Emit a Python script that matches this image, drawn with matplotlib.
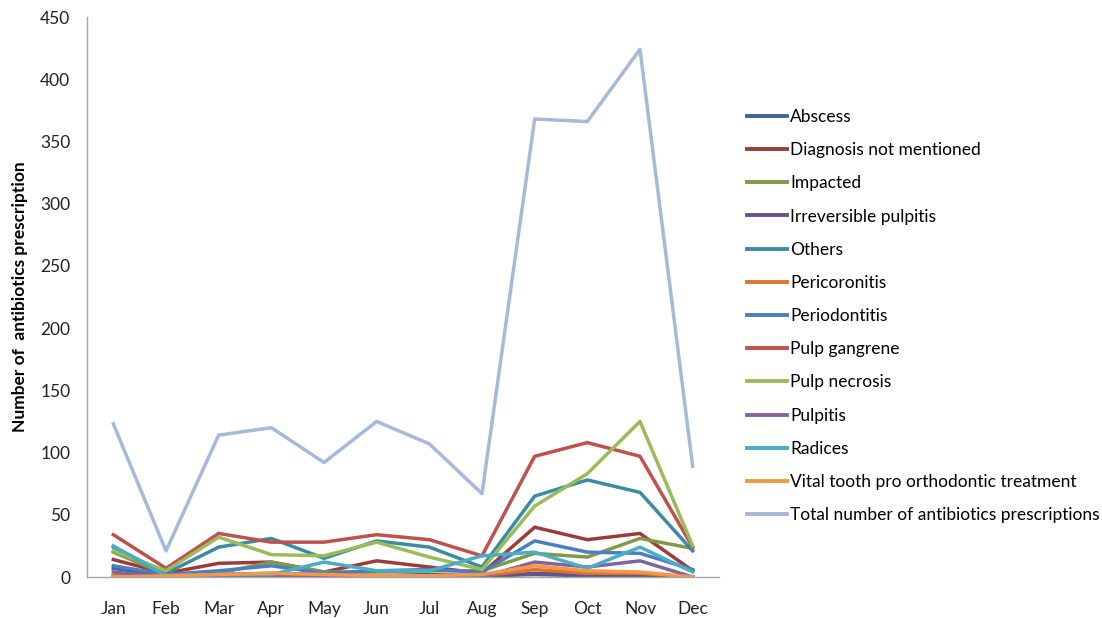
import matplotlib
matplotlib.use("Agg")
import matplotlib.pyplot as plt

plt.rcParams['font.family'] = ['Lato', 'DejaVu Sans']

months = ["Jan", "Feb", "Mar", "Apr", "May", "Jun", "Jul", "Aug", "Sep", "Oct", "Nov", "Dec"]

abscess = [7, 1, 2, 3, 2, 1, 2, 1, 2, 1, 1, 0]
diagnosis_not_mentioned = [14, 3, 11, 12, 4, 13, 8, 3, 40, 30, 35, 5]
impacted = [20, 2, 3, 12, 4, 4, 5, 5, 19, 16, 31, 23]
irreversible_pulpitis = [1, 0, 0, 1, 0, 0, 0, 0, 3, 2, 2, 0]
others = [24, 3, 24, 31, 15, 29, 24, 8, 65, 78, 68, 21]
pericoronitis = [1, 0, 1, 1, 1, 1, 1, 1, 6, 3, 3, 0]
periodontitis = [9, 2, 5, 9, 3, 5, 6, 4, 29, 20, 19, 6]
pulp_gangrene = [34, 7, 35, 28, 28, 34, 30, 17, 97, 108, 97, 24]
pulp_necrosis = [21, 5, 32, 18, 17, 28, 16, 6, 57, 83, 125, 25]
pulpitis = [4, 0, 1, 1, 0, 1, 1, 0, 12, 8, 13, 0]
radices = [25, 1, 2, 2, 12, 5, 5, 17, 20, 7, 24, 4]
vital_tooth = [0, 1, 2, 3, 2, 1, 1, 2, 9, 5, 4, 0]
total = [123, 21, 114, 120, 92, 125, 107, 67, 368, 366, 424, 89]

series = [
    ("Abscess", abscess, "#3C679A"),
    ("Diagnosis not mentioned", diagnosis_not_mentioned, "#9D3B39"),
    ("Impacted", impacted, "#7F9A48"),
    ("Irreversible pulpitis", irreversible_pulpitis, "#69528A"),
    ("Others", others, "#3A8CA3"),
    ("Pericoronitis", pericoronitis, "#D9772E"),
    ("Periodontitis", periodontitis, "#4A7EC0"),
    ("Pulp gangrene", pulp_gangrene, "#C0504D"),
    ("Pulp necrosis", pulp_necrosis, "#9BBB59"),
    ("Pulpitis", pulpitis, "#8064A2"),
    ("Radices", radices, "#4BACC6"),
    ("Vital tooth pro orthodontic treatment", vital_tooth, "#F79646"),
    ("Total number of antibiotics prescriptions", total, "#A5B9DA"),
]

fig = plt.figure(figsize=(11.02, 6.18), dpi=100)
ax = fig.add_axes([87 / 1102, 1 - 577 / 618, (719 - 87) / 1102, (577 - 17) / 618])

x = list(range(len(months)))
for name, vals, col in series:
    ax.plot(x, vals, color=col, linewidth=2.5, label=name, solid_joinstyle='round')

ax.set_xlim(-0.5, 11.5)
ax.set_ylim(0, 450)
ax.set_yticks(range(0, 451, 50))
ax.set_xticks(x)
ax.set_xticklabels(months)
ax.tick_params(axis='both', length=0, labelsize=12.5, colors='#222222')
ax.tick_params(axis='x', pad=17)
ax.tick_params(axis='y', pad=12)
for s in ['top', 'right']:
    ax.spines[s].set_visible(False)
for s in ['left', 'bottom']:
    ax.spines[s].set_color('#A6A6A6')
    ax.spines[s].set_linewidth(1.0)

ax.set_ylabel("Number of  antibiotics prescription", fontsize=12.5, fontweight='bold', labelpad=9)

leg = fig.legend(loc='upper left', bbox_to_anchor=(740 / 1102, 1 - 102 / 618), frameon=False,
                 fontsize=12.5, handlelength=2.3, handletextpad=0.2, labelspacing=0.99,
                 borderaxespad=0)
for line in leg.get_lines():
    line.set_linewidth(2.8)

fig.savefig("out.png", dpi=100)
